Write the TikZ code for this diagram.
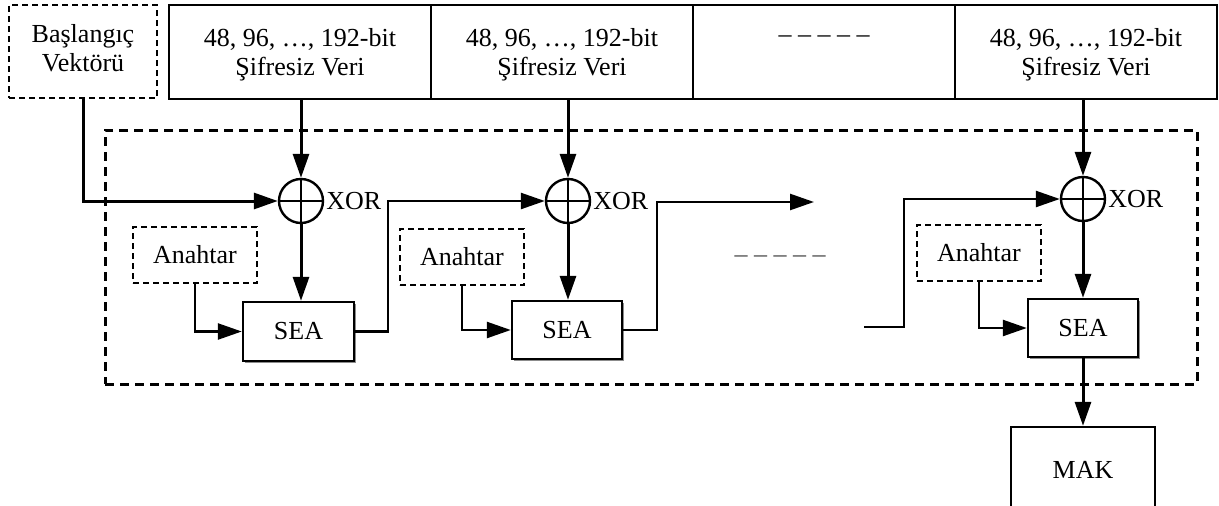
\documentclass[tikz,border=0pt]{standalone}
\usepackage{fontspec}
\setmainfont{Liberation Serif}
\usetikzlibrary{arrows.meta,shadows}
\newcommand{\upstrut}{\rule{0pt}{24pt}}
\newcommand{\dnstrut}{\rule[-8pt]{0pt}{8pt}}
\begin{document}
\begin{tikzpicture}[x=1pt,y=-1pt,
  every node/.style={font=\fontsize{26}{29}\selectfont, inner sep=0pt},
  box/.style={draw, line width=2.4pt, align=center},
  databox/.style={box, minimum width=262pt, minimum height=94pt},
  dbox/.style={draw, line width=2.2pt, dash pattern=on 6pt off 4pt, align=center},
  keybox/.style={dbox, minimum width=124pt, minimum height=56pt},
  seabox/.style={box, minimum width=110pt, minimum height=58pt, fill=white,
     drop shadow={shadow xshift=1.5pt, shadow yshift=-1.5pt, fill=black!45, opacity=1}},
  xorc/.style={circle, draw, line width=2.4pt, minimum size=44pt},
  arr/.style={-{Triangle[length=24pt,width=16pt]}, line width=3pt},
  arrthin/.style={-{Triangle[length=24pt,width=16pt]}, line width=2.5pt},
  cross/.style={line width=1.8pt},
]
\useasboundingbox (0,0) rectangle (1219,506);

% outer dashed frame
\node[draw, line width=3pt, dash pattern=on 9pt off 6pt,
      minimum width=1092pt, minimum height=254pt] (enc) at (651,257) {};

% top row
\node[dbox, minimum width=148pt, minimum height=93pt] (iv) at (83,51.5) {Başlangıç\\Vektörü\dnstrut};
\node[databox] (d1) at (300,52) {\upstrut48, 96, …, 192-bit\\Şifresiz Veri};
\node[databox] (d2) at (562,52) {\upstrut48, 96, …, 192-bit\\Şifresiz Veri};
\node[databox] (d3) at (824,52) {};
\node (dots3) at (824,39) {– – – – –};
\node[databox] (d4) at (1086,52) {\upstrut48, 96, …, 192-bit\\Şifresiz Veri};

% XOR gates
\node[xorc] (x1) at (301,201) {};
\node[xorc] (x2) at (568,201) {};
\node[xorc] (x3) at (1083,199) {};
\foreach \g in {x1,x2,x3}{
  \draw[cross] (\g.north) -- (\g.south) (\g.west) -- (\g.east);
  \node[anchor=west] (\g lab) at ([xshift=2pt]\g.east) {XOR};
}

% key boxes
\node[keybox] (a1) at (195,255) {Anahtar};
\node[keybox] (a2) at (462,257) {Anahtar};
\node[keybox] (a3) at (979,253) {Anahtar};

% SEA boxes
\node[seabox, minimum width=111pt, minimum height=59pt] (s1) at (298.5,331.5) {SEA};
\node[seabox] (s2) at (567,330) {SEA};
\node[seabox] (s3) at (1083,328) {SEA};

% MAK
\node[box, minimum width=144pt, minimum height=86pt] (mak) at (1083,470) {MAK};

% middle ellipsis
\node[text=black!70] (mid) at (780,259) {– – – – –};

% connectors
\draw[arr] (x1 |- d1.south) -- (x1.north);
\draw[arr] (x2 |- d2.south) -- (x2.north);
\draw[arr] (x3 |- d4.south) -- (x3.north);
\draw[arr] (iv.south) |- (x1.west);
\draw[arr] (x1.south) -- (x1 |- s1.north);
\draw[arr] (x2.south) -- (x2 |- s2.north);
\draw[arr] (x3.south) -- (x3 |- s3.north);
\draw[arrthin] (a1.south) |- (s1.west);
\draw[arrthin] (a2.south) |- (s2.west);
\draw[arrthin] (a3.south) |- (s3.west);
\draw[arrthin] (s1.east) -- ++(33,0) |- (x2.west);
\coordinate (c1) at (814,202);
\draw[arrthin] (s2.east) -- ++(34,0) |- (c1);
\coordinate (c2) at (864,327);
\draw[arrthin] (c2) -- ++(40,0) |- (x3.west);
\draw[arr] (s3.south) -- (mak.north);
\end{tikzpicture}
\end{document}
